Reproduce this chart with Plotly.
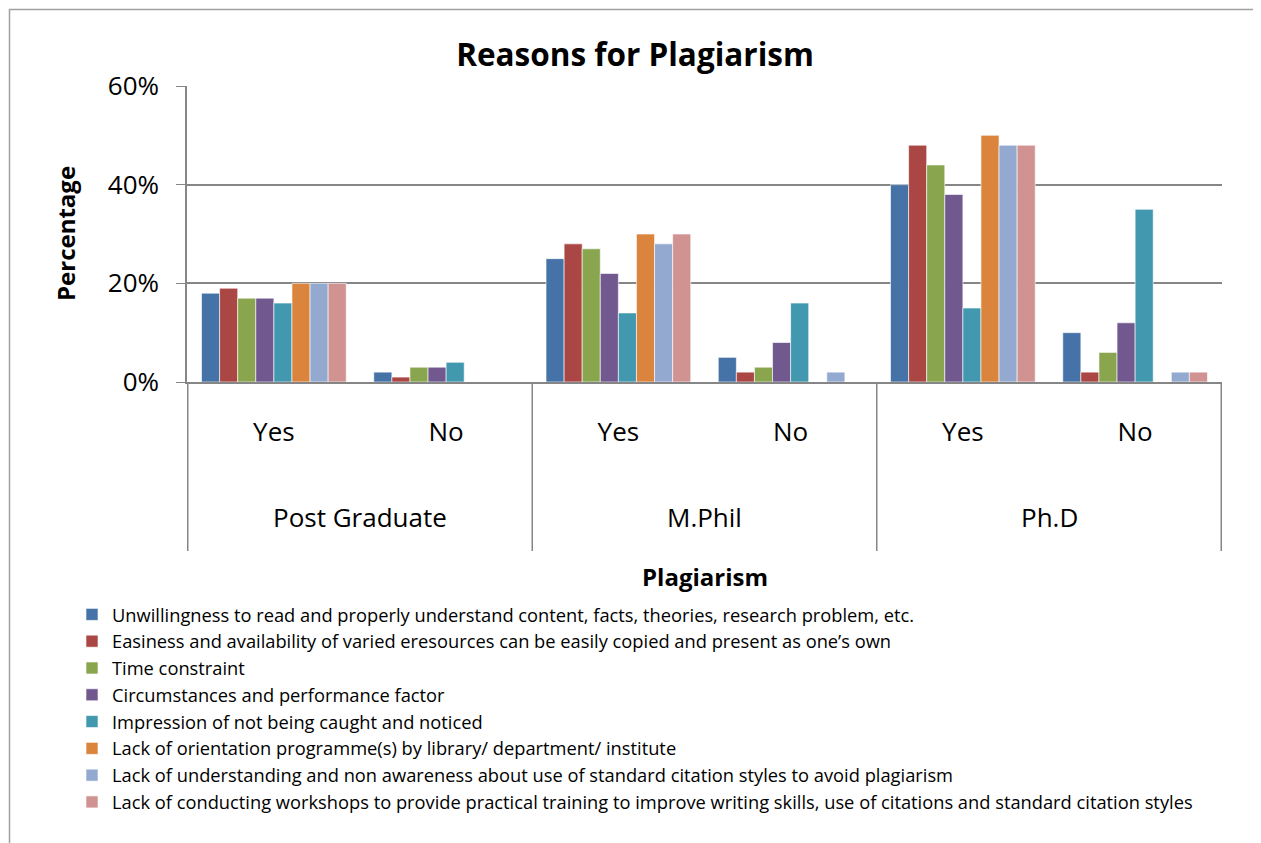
import plotly.graph_objects as go

groups = ["Post Graduate", "M.Phil", "Ph.D"]
answers = ["Yes", "No"]
series_names = [
    "Unwillingness to read and properly understand content, facts, theories, research problem, etc.",
    "Easiness and availability of varied eresources can be easily copied and present as one\u2019s own",
    "Time constraint",
    "Circumstances and performance factor",
    "Impression of not being caught and noticed",
    "Lack of orientation programme(s) by library/ department/ institute",
    "Lack of understanding and non awareness about use of standard citation styles to avoid plagiarism",
    "Lack of conducting workshops to provide practical training to improve writing skills, use of citations and standard citation styles",
]
# values per series, order: PG Yes, PG No, MPhil Yes, MPhil No, PhD Yes, PhD No (in %)
unwilling = [18, 2, 25, 5, 40, 10]
easiness = [19, 1, 28, 2, 48, 2]
time_c = [17, 3, 27, 3, 44, 6]
circum = [17, 3, 22, 8, 38, 12]
impression = [16, 4, 14, 16, 15, 35]
orientation = [20, 0, 30, 0, 50, 0]
understanding = [20, 0, 28, 2, 48, 2]
workshops = [20, 0, 30, 0, 48, 2]
series_values = [unwilling, easiness, time_c, circum, impression, orientation, understanding, workshops]
colors = ["#4572A7", "#AA4643", "#89A54E", "#71588F", "#4198AF", "#DB843D", "#93A9CF", "#D19392"]

cats = [f"{g}|{a}" for g in groups for a in answers]
ticktext = [a for g in groups for a in answers]

FONT = "Open Sans"
OFF = 8  # page body margin
W, H = 1261 - OFF, 843 - OFF
L, T = 187 - OFF, 86 - OFF
R = W - (1222 - OFF)
B = H - (382 - OFF)
pw, ph = W - L - R, H - T - B


def px_x(sx):
    return (sx - OFF - L) / pw


def px_y(sy):
    return (H - B - (sy - OFF)) / ph


fig = go.Figure()
for name, vals, col in zip(series_names, series_values, colors):
    fig.add_trace(go.Bar(
        x=cats, y=[v / 100 for v in vals], name=name,
        marker=dict(color=col, line=dict(color="rgba(255,255,255,0.6)", width=1)),
    ))

shapes = []
for i in range(len(groups) + 1):
    shapes.append(dict(type="line", xref="x", yref="paper", x0=2 * i - 0.5, x1=2 * i - 0.5,
                       y0=0, y1=px_y(551), line=dict(color="#868686", width=1.5)))
shapes.append(dict(type="rect", xref="paper", yref="paper", x0=px_x(9.5), x1=px_x(1259),
                   y0=px_y(870), y1=px_y(9.5), line=dict(color="#A0A0A0", width=1.5), layer="below"))

annotations = []
for i, g in enumerate(groups):
    annotations.append(dict(x=2 * i + 0.5, xref="x", y=px_y(517), yref="paper", text=g, showarrow=False,
                            font=dict(size=26, color="black", family=FONT), yanchor="middle"))
annotations.append(dict(x=0.5, xref="paper", y=px_y(576), yref="paper", text="<b>Plagiarism</b>",
                        showarrow=False, font=dict(size=24, color="black", family=FONT), yanchor="middle"))
annotations.append(dict(x=px_x(65), xref="paper", y=0.5, yref="paper", text="<b>Percentage</b>",
                        textangle=-90, showarrow=False, font=dict(size=24, color="black", family=FONT),
                        xanchor="center"))

fig.update_layout(
    width=W, height=H,
    margin=dict(l=L, r=R, t=T, b=B, pad=0),
    paper_bgcolor="white", plot_bgcolor="white",
    title=dict(text="<b>Reasons for Plagiarism</b>", x=(635 - OFF) / W, xanchor="center",
               y=1 - (55 - OFF) / H, yanchor="middle", font=dict(size=31.5, color="black", family=FONT)),
    barmode="group", bargap=0.16, bargroupgap=0,
    font=dict(family=FONT, color="black"),
    xaxis=dict(type="category", tickvals=cats, ticktext=ticktext, tickfont=dict(size=26, family=FONT),
               showline=True, linecolor="#868686", linewidth=1.5, ticks="", showgrid=False,
               ticklabelstandoff=26),
    yaxis=dict(range=[0, 0.6], tickvals=[0, 0.2, 0.4, 0.6], tickformat=".0%",
               tickfont=dict(size=26, family=FONT), showgrid=True, gridcolor="#868686", gridwidth=1.5,
               showline=True, linecolor="#868686", linewidth=1.5, ticks="outside", ticklen=9,
               tickcolor="#868686", zeroline=False, ticklabelstandoff=12),
    legend=dict(x=px_x(72), y=px_y(596), xanchor="left", yanchor="top", orientation="v",
                font=dict(size=18.3, family=FONT, color="black"), itemwidth=30, tracegroupgap=0,
                bgcolor="rgba(0,0,0,0)"),
    shapes=shapes, annotations=annotations,
)
fig.write_html("out.html")
